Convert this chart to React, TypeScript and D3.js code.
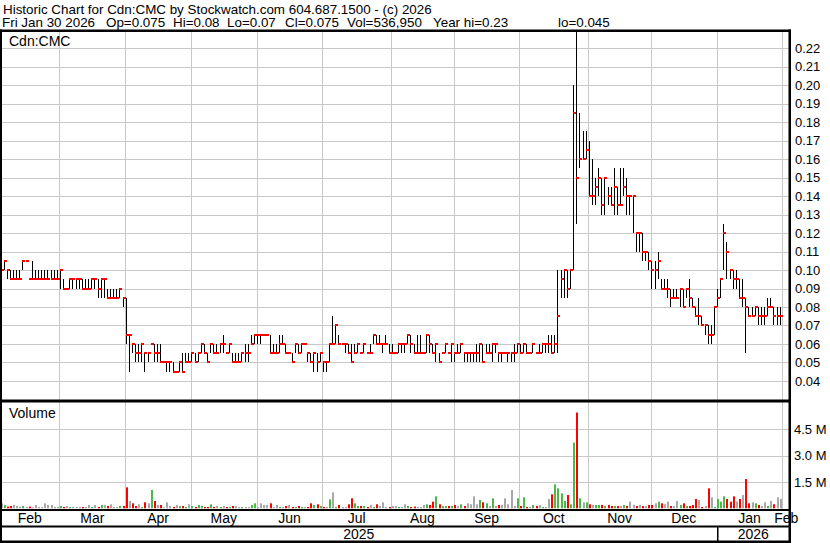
import React from "react";
import * as d3 from "d3";

// ---------- DATA ----------
const monthLabels = ["Feb", "Mar", "Apr", "May", "Jun", "Jul", "Aug", "Sep", "Oct", "Nov", "Dec", "Jan"];
const monthTradingDays = [19, 21, 21, 21, 21, 22, 20, 21, 22, 20, 21, 21];
const trailingMonthLabel = "Feb";
const yearLabels = ["2025", "2026"];
const yearMonthCounts = [11, 1];

// prices in cents (0.095 -> 9.5)
const highsCents = [
  // Feb
  10, 10.5, 10, 10, 10, 10, 10, 10.5, 10.5, 9.5, 10.5, 10, 10, 10, 10, 10, 10, 10, 10,
  // Mar
  10, 9.5, 9, 9.5, 9.5, 9.5, 9.5, 9.5, 9.5, 9.5, 9.5, 9.5, 9.5, 9.5, 9.5, 9, 9, 9, 9, 9, 8.5,
  // Apr
  8.5, 6.5, 6, 6, 6, 6, 5.5, 5.5, 6, 6, 6, 6, 5, 5, 5, 5, 4.5, 5, 5.5, 5.5, 5.5,
  // May
  5.5, 5.5, 5.5, 6, 6, 5.5, 6, 6, 6, 6, 6.5, 5.5, 6, 5.5, 5.5, 5.5, 5.5, 6, 6, 6.5, 6.5,
  // Jun
  6.5, 6.5, 6.5, 6.5, 6.5, 6, 6, 6.5, 6.5, 6, 5.5, 5.5, 6, 6, 6, 6, 5.5, 5.5, 5.5, 5.5, 5.5,
  // Jul
  5, 5, 6, 7.5, 7, 6.5, 6, 6, 6, 6, 6, 6, 5.5, 6, 5.5, 6, 6.5, 6.5, 6.5, 6, 6.5, 6,
  // Aug
  6, 5.5, 6, 6, 6, 6.5, 6.5, 6, 6.5, 6.5, 5.5, 6.5, 6.5, 6, 6, 5.5, 5.5, 6, 5.5, 6,
  // Sep
  5.5, 6, 6, 5.5, 5.5, 5.5, 5.5, 6, 6, 6, 6, 6, 6, 6, 5.5, 5.5, 5.5, 5.5, 5.5, 6, 6,
  // Oct
  6, 6, 6, 5.5, 6, 5.5, 6, 6, 6, 6.5, 6.5, 6.5, 10, 10, 10, 10, 10, 20, 23, 18.5, 17.5, 17.5,
  // Nov
  17, 16, 15, 15.5, 15, 15, 14.5, 14.5, 15.5, 14.5, 15.5, 15.5, 15, 14, 14, 12, 12, 12, 11, 11,
  // Dec
  10.5, 10.5, 11, 9.5, 9.5, 9.5, 9, 9, 9, 9, 9, 9, 9.5, 8.5, 8, 8.5, 7.5, 7, 7, 7, 8,
  // Jan
  9, 9.5, 12.5, 11.5, 10, 10, 10, 9.5, 9.5, 8.5, 8, 8, 8, 8, 8, 8, 8.5, 8.5, 8, 8, 8,
];

const lowsCents = [
  // Feb
  9.5, 10, 9.5, 9.5, 9.5, 9.5, 9.5, 10, 10.5, 9.5, 9.5, 9.5, 9.5, 9.5, 9.5, 9.5, 9.5, 9.5, 9.5,
  // Mar
  9, 9, 9, 9, 9, 9, 9, 9, 9, 9, 9, 9, 8.5, 8.5, 8.5, 8.5, 8.5, 8.5, 8.5, 8.5, 8,
  // Apr
  6, 4.5, 5.5, 5, 5, 5, 4.5, 5, 6, 5, 5, 5, 5, 4.5, 4.5, 4.5, 4.5, 4.5, 4.5, 5, 5,
  // May
  5, 5, 5, 5.5, 5.5, 5, 5.5, 5.5, 5.5, 5.5, 5.5, 5.5, 5.5, 5, 5, 5, 5, 5, 5, 6, 6,
  // Jun
  6, 6, 6.5, 6.5, 5.5, 5.5, 5.5, 5.5, 6, 5.5, 5.5, 5, 5.5, 5.5, 5.5, 6, 5, 5, 4.5, 4.5, 5,
  // Jul
  4.5, 4.5, 5, 6, 6, 6, 6, 5.5, 5.5, 5, 5.5, 5.5, 5.5, 5.5, 5.5, 5.5, 6, 6, 6, 5.5, 6, 5.5,
  // Aug
  5.5, 5.5, 5.5, 5.5, 5.5, 6, 5.5, 5.5, 5.5, 5.5, 5.5, 5.5, 5.5, 5.5, 5, 5, 5.5, 5.5, 5.5, 5,
  // Sep
  5, 5.5, 5.5, 5, 5, 5, 5, 5, 5, 5, 5.5, 5.5, 5, 5.5, 5, 5, 5.5, 5, 5, 5, 5.5,
  // Oct
  5.5, 5.5, 5.5, 5.5, 5.5, 5.5, 5.5, 5.5, 5.5, 5.5, 5.5, 5.5, 5.5, 8.5, 8.5, 8.5, 9, 10, 12.5, 15.5, 16, 16,
  // Nov
  14, 13.5, 13.5, 14, 13, 13, 13.5, 13.5, 13, 13, 13.5, 14, 13, 13, 12, 11, 11, 10.5, 10.5, 10,
  // Dec
  9, 9, 9.5, 9, 9, 8.5, 8, 8.5, 8.5, 8, 8, 8.5, 8, 8, 7.5, 7, 7, 6.5, 6, 6, 6.5,
  // Jan
  8, 8.5, 10, 9.5, 9.5, 9, 9, 8.5, 8, 5.5, 7.5, 7.5, 7.5, 7, 7, 7, 7.5, 8, 7, 7, 7,
];

const closesCents = [
  // Feb
  10, 10.5, 10, 9.5, 9.5, 9.5, 9.5, 10.5, 10.5, 9.5, 9.5, 9.5, 9.5, 9.5, 9.5, 9.5, 9.5, 9.5, 9.5,
  // Mar
  10, 9, 9, 9.5, 9.5, 9.5, 9.5, 9, 9, 9, 9.5, 9.5, 9, 9.5, 9.5, 8.5, 8.5, 8.5, 8.5, 9, 8.5,
  // Apr
  6.5, 6.5, 6, 5.5, 5.5, 6, 5.5, 5.5, 6, 5.5, 5.5, 5, 5, 5, 5, 4.5, 4.5, 5, 4.5, 5, 5,
  // May
  5.5, 5, 5.5, 6, 5.5, 5, 6, 5.5, 5.5, 6, 6, 5.5, 6, 5, 5, 5, 5.5, 5.5, 5.5, 6, 6.5,
  // Jun
  6.5, 6.5, 6.5, 6.5, 5.5, 5.5, 5.5, 6, 6, 5.5, 5.5, 5, 6, 5.5, 6, 6, 5.5, 5, 5.5, 5, 5.5,
  // Jul
  5, 5, 6, 6, 7, 6, 6, 6, 5.5, 5, 5.5, 6, 5.5, 6, 5.5, 5.5, 6.5, 6, 6, 6, 6, 5.5,
  // Aug
  5.5, 5.5, 6, 6, 6, 6.5, 6, 5.5, 5.5, 5.5, 5.5, 6.5, 6, 5.5, 6, 5, 5.5, 6, 5.5, 6,
  // Sep
  5.5, 5.5, 6, 5.5, 5.5, 5.5, 5.5, 5.5, 6, 5, 5.5, 5.5, 6, 6, 5.5, 5.5, 5.5, 5.5, 5.5, 5.5, 6,
  // Oct
  5.5, 6, 5.5, 5.5, 6, 5.5, 5.5, 6, 6, 6, 5.5, 6, 7.5, 9.5, 10, 9, 10, 18.5, 15, 16, 16, 16.5,
  // Nov
  14, 14, 14.5, 15, 13.5, 15, 14, 13.5, 14.5, 13.5, 13.5, 14.5, 14, 14, 14, 12, 12, 11, 11, 10.5,
  // Dec
  10, 10, 10.5, 9, 9, 9, 8.5, 8.5, 8.5, 9, 8, 9, 8.5, 8, 7.5, 7.5, 7, 7, 6.5, 6.5, 8,
  // Jan
  8.5, 9.5, 12, 11, 10, 9.5, 9.5, 8.5, 8.5, 8, 7.5, 7.5, 8, 7.5, 7.5, 7.5, 8, 8, 7.5, 7.5, 7.5,
];

// volume in thousands of shares
const volumesK = [
  // Feb
  280, 190, 95, 130, 190, 130, 95, 130, 76, 95, 60, 190, 76, 76, 280, 190, 190, 76, 76,
  // Mar
  130, 76, 130, 76, 76, 76, 76, 76, 76, 190, 76, 190, 76, 190, 190, 130, 227, 76, 76, 130, 130,
  // Apr
  1190, 416, 284, 132, 227, 76, 340, 284, 1040, 416, 190, 190, 60, 340, 132, 76, 190, 132, 132, 76, 227,
  // May
  132, 76, 190, 132, 76, 76, 227, 76, 132, 76, 132, 76, 76, 132, 132, 76, 76, 76, 76, 190, 284,
  // Jun
  76, 284, 190, 190, 284, 76, 190, 76, 76, 132, 190, 76, 76, 132, 76, 76, 76, 284, 190, 227, 132,
  // Jul
  76, 76, 510, 907, 76, 190, 76, 76, 227, 567, 284, 132, 132, 132, 76, 190, 76, 227, 132, 340, 76, 76,
  // Aug
  132, 132, 76, 76, 227, 132, 76, 95, 76, 76, 190, 227, 190, 378, 680, 227, 132, 132, 132, 132,
  // Sep
  189, 132, 227, 132, 284, 227, 680, 227, 473, 340, 284, 132, 567, 132, 189, 189, 567, 227, 1040, 132, 567,
  // Oct
  132, 624, 76, 76, 190, 132, 190, 76, 76, 530, 794, 1360, 1134, 850, 416, 756, 227, 3740, 5440, 567, 340, 340,
  // Nov
  227, 190, 190, 190, 190, 132, 190, 132, 132, 132, 132, 190, 132, 378, 190, 132, 190, 132, 132, 190,
  // Dec
  190, 284, 378, 284, 227, 378, 132, 132, 416, 189, 284, 132, 132, 189, 530, 473, 76, 132, 1134, 624, 76,
  // Jan
  530, 378, 680, 530, 378, 680, 378, 530, 756, 1660, 284, 340, 284, 189, 132, 340, 132, 416, 227, 624, 537,
];

const priceTicksCents = [4, 5, 6, 7, 8, 9, 10, 11, 12, 13, 14, 15, 16, 17, 18, 19, 20, 21, 22];
const volumeTicksM = [1.5, 3.0, 4.5];

const headerLine1 = "Historic Chart for Cdn:CMC by Stockwatch.com 604.687.1500 - (c) 2026";
const headerFields = ["Fri Jan 30 2026", "Op=0.075", "Hi=0.08", "Lo=0.07", "Cl=0.075", "Vol=536,950", "Year hi=0.23", "lo=0.045"];
const symbolLabel = "Cdn:CMC";
const volumeLabel = "Volume";

// ---------- LAYOUT ----------
const W = 830;
const H = 543;
const FONT = "'Liberation Sans', Arial, sans-serif";
const GRID = "#c8c8c8";
const UP = "#4cb848";
const DOWN = "#ff0000";
const FLAT = "#a8a8a8";
const headerFieldXs = [2, 106, 173, 227, 285, 347, 433, 558];

const PLOT_RIGHT = 789;
const PRICE_TOP = 32;
const PRICE_BOTTOM = 400;
const VOL_TOP = 402;
const VOL_BOTTOM = 509;

export default function App() {
  const n = closesCents.length;
  const x = d3.scaleLinear().domain([0, n]).range([0, 782.3]);
  const yP = d3.scaleLinear().domain([3, 23]).range([399.4, 29.8]);
  const yV = d3.scaleLinear().domain([0, 6]).range([508.3, 402.7]);

  const starts = [0, ...d3.cumsum(monthTradingDays)];
  const monthStarts = starts.slice(0, monthLabels.length);
  const gridXs = starts.slice(1).map((s) => Math.round(x(s)) + 0.5);
  const bx = (i: number) => Math.floor(x(i)) + 1.5;

  const monthLabelXs = monthLabels.map((_, k) => {
    const a = k === 0 ? 0 : x(monthStarts[k]);
    const b = x(starts[k + 1]);
    return (a + b) / 2;
  });

  const janX = Math.round(x(starts[yearMonthCounts[0]])) + 0.5;

  const volColor = (i: number) => {
    if (i === 0) return FLAT;
    if (closesCents[i] > closesCents[i - 1]) return UP;
    if (closesCents[i] < closesCents[i - 1]) return DOWN;
    return FLAT;
  };

  return (
    <svg
      width={W}
      height={H}
      style={{ position: "absolute", left: 0, top: 0, background: "#fff" }}
      fontFamily={FONT}
    >
      <rect x={0} y={0} width={W} height={H} fill="#fff" />
      <defs>
        <clipPath id="pclip">
          <rect x={2} y={PRICE_TOP} width={PLOT_RIGHT - 2} height={PRICE_BOTTOM - PRICE_TOP} />
        </clipPath>
        <clipPath id="vclip">
          <rect x={2} y={VOL_TOP} width={PLOT_RIGHT - 2} height={VOL_BOTTOM - VOL_TOP} />
        </clipPath>
      </defs>

      {/* header */}
      <text x={3} y={13.5} fontSize={13.4} fill="#000">
        {headerLine1}
      </text>
      {headerFields.map((f, k) => (
        <text key={"hf" + k} x={headerFieldXs[k]} y={27} fontSize={13.4} fill="#000">
          {f}
        </text>
      ))}

      {/* price grid */}
      {priceTicksCents.map((t) => (
        <line key={"pg" + t} x1={2} x2={PLOT_RIGHT} y1={Math.round(yP(t)) + 0.5} y2={Math.round(yP(t)) + 0.5} stroke={GRID} />
      ))}
      {/* volume grid */}
      {volumeTicksM.map((t) => (
        <line key={"vg" + t} x1={2} x2={PLOT_RIGHT} y1={Math.round(yV(t)) + 0.5} y2={Math.round(yV(t)) + 0.5} stroke={GRID} />
      ))}
      {/* vertical month grid */}
      {gridXs.map((gx, k) => (
        <g key={"mg" + k}>
          <line x1={gx} x2={gx} y1={PRICE_TOP} y2={PRICE_BOTTOM} stroke={GRID} />
          <line x1={gx} x2={gx} y1={VOL_TOP} y2={VOL_BOTTOM} stroke={GRID} />
        </g>
      ))}

      {/* price bars */}
      <g clipPath="url(#pclip)">
        {closesCents.map((c, i) => {
          const h = highsCents[i];
          const l = lowsCents[i];
          const xb = bx(i);
          return (
            <g key={"b" + i}>
              {h > l && (
                <line x1={xb} x2={xb} y1={Math.round(yP(h))} y2={Math.round(yP(l))} stroke="#000" strokeWidth={1} />
              )}
              <rect x={xb - 0.5} y={Math.round(yP(c)) - 1} width={3} height={2} fill={DOWN} />
            </g>
          );
        })}
      </g>

      {/* volume bars */}
      <g clipPath="url(#vclip)">
        {volumesK.map((v, i) => {
          const top = yV(v / 1000);
          return (
            <rect
              key={"v" + i}
              x={bx(i) - 0.5}
              y={top}
              width={2}
              height={Math.max(1, yV(0) - top)}
              fill={volColor(i)}
            />
          );
        })}
      </g>

      {/* panel labels */}
      <text x={9} y={46} fontSize={14} fill="#000">{symbolLabel}</text>
      <text x={9} y={418} fontSize={14} fill="#000">{volumeLabel}</text>

      {/* right axis labels */}
      {priceTicksCents.map((t) => (
        <text key={"pl" + t} x={795} y={yP(t) + 4.7} fontSize={13} fill="#000">
          {(t / 100).toFixed(2)}
        </text>
      ))}
      {volumeTicksM.map((t) => (
        <text key={"vl" + t} x={794} y={yV(t) + 4.7} fontSize={13} fill="#000">
          {t.toFixed(1) + " M"}
        </text>
      ))}

      {/* month labels */}
      {monthLabels.map((m, k) => (
        <text key={"ml" + k} x={monthLabelXs[k]} y={523} fontSize={14} textAnchor="middle" fill="#000">
          {m}
        </text>
      ))}
      <text x={x(n) + 4} y={523} fontSize={14} textAnchor="middle" fill="#000">
        {trailingMonthLabel}
      </text>

      {/* year labels */}
      {yearLabels.map((yl, k) => {
        const a = k === 0 ? 0 : janX;
        const b = k === 0 ? janX : PLOT_RIGHT;
        return (
          <text key={"yl" + k} x={(a + b) / 2} y={539} fontSize={14} textAnchor="middle" fill="#000">
            {yl}
          </text>
        );
      })}

      {/* frame */}
      <rect x={0} y={29.5} width={791} height={2.5} fill="#000" />
      <rect x={0} y={29.5} width={2} height={H - 29.5} fill="#000" />
      <rect x={0} y={399.5} width={791} height={3} fill="#000" />
      <rect x={0} y={509} width={791} height={2} fill="#000" />
      <rect x={0} y={525.5} width={791} height={2} fill="#000" />
      <rect x={0} y={540.5} width={791} height={2.5} fill="#000" />
      <rect x={788.5} y={29.5} width={2.5} height={H - 29.5} fill="#000" />
      <rect x={janX - 0.5} y={527} width={1.5} height={14} fill="#000" />
    </svg>
  );
}
